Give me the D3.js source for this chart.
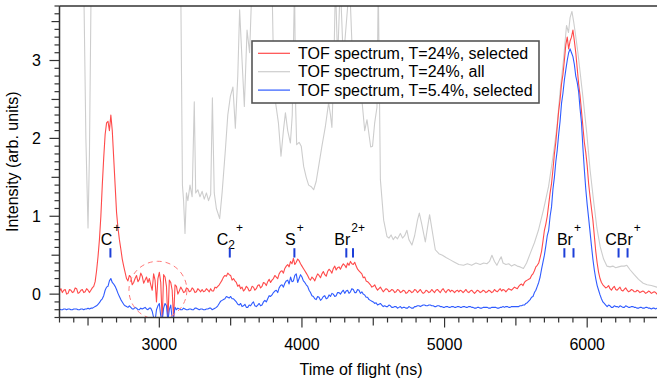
<!DOCTYPE html>
<html><head><meta charset="utf-8">
<script src="https://cdn.jsdelivr.net/npm/d3@7/dist/d3.min.js"></script>
<style>
body{margin:0;background:#fff}
svg{display:block;font-family:"Liberation Sans",Arial,sans-serif}
</style>
</head><body>
<svg id="chart" width="657" height="386"></svg>
<script>
// Sampling of the selected spectra (ns)
const sampleStart = 2300, sampleStep = 10;

// TOF spectrum, T=24%, selected (one row = 200 ns)
const redSelected = [
  0.04, 0.07, 0.02, 0.05, 0.06, 0.00, 0.01, 0.06, 0.05, 0.02, 0.03, 0.08, 0.07, 0.01, 0.02, 0.05, 0.06, 0.02, 0.03, 0.07,
  0.05, 0.02, 0.05, 0.08, 0.10, 0.16, 0.30, 0.48, 0.70, 1.00, 1.40, 1.75, 2.05, 2.20, 2.22, 2.10, 2.30, 2.10, 1.75, 1.40,
  1.05, 0.85, 0.70, 0.58, 0.45, 0.36, 0.28, 0.20, 0.17, 0.24, 0.22, 0.12, 0.15, 0.20, 0.24, 0.16, 0.19, 0.27, 0.23, 0.14,
  0.18, 0.22, 0.15, 0.20, 0.12, 0.05, 0.26, 0.18, -0.10, 0.20, 0.28, 0.15, -0.35, 0.25, 0.22, 0.10, -0.35, 0.18, 0.15, 0.05,
  -0.32, 0.12, 0.10, 0.00, 0.04, 0.09, 0.06, 0.02, 0.03, 0.08, 0.07, 0.03, 0.04, 0.08, 0.06, 0.02, 0.03, 0.07, 0.05, 0.03,
  0.06, 0.03, 0.04, 0.07, 0.05, 0.03, 0.07, 0.04, 0.04, 0.09, 0.08, 0.10, 0.12, 0.15, 0.18, 0.22, 0.24, 0.23, 0.27, 0.25,
  0.24, 0.18, 0.20, 0.17, 0.15, 0.10, 0.12, 0.07, 0.09, 0.04, 0.06, 0.10, 0.08, 0.04, 0.05, 0.10, 0.09, 0.05, 0.07, 0.11,
  0.12, 0.08, 0.10, 0.15, 0.14, 0.11, 0.16, 0.19, 0.15, 0.18, 0.20, 0.24, 0.22, 0.20, 0.26, 0.29, 0.30, 0.27, 0.33, 0.36,
  0.38, 0.35, 0.42, 0.39, 0.46, 0.38, 0.41, 0.45, 0.43, 0.39, 0.36, 0.33, 0.30, 0.27, 0.24, 0.20, 0.18, 0.22, 0.20, 0.17,
  0.22, 0.26, 0.24, 0.21, 0.26, 0.29, 0.25, 0.23, 0.29, 0.32, 0.30, 0.27, 0.33, 0.36, 0.31, 0.34, 0.35, 0.32, 0.36, 0.39,
  0.37, 0.34, 0.40, 0.37, 0.42, 0.39, 0.38, 0.41, 0.36, 0.32, 0.30, 0.28, 0.26, 0.21, 0.22, 0.17, 0.16, 0.14, 0.12, 0.09,
  0.10, 0.12, 0.08, 0.05, 0.07, 0.09, 0.06, 0.03, 0.05, 0.07, 0.06, 0.03, 0.04, 0.06, 0.05, 0.02, 0.03, 0.06, 0.05, 0.02,
  0.03, 0.05, 0.04, 0.01, 0.02, 0.05, 0.04, 0.02, 0.03, 0.06, 0.05, 0.02, 0.04, 0.06, 0.03, 0.01, 0.02, 0.05, 0.04, 0.02,
  0.03, 0.06, 0.04, 0.02, 0.05, 0.06, 0.04, 0.02, 0.05, 0.07, 0.04, 0.02, 0.05, 0.06, 0.03, 0.05, 0.04, 0.02, 0.04, 0.05,
  0.03, 0.05, 0.04, 0.02, 0.04, 0.06, 0.03, 0.02, 0.04, 0.05, 0.03, 0.01, 0.03, 0.05, 0.04, 0.02, 0.03, 0.05, 0.04, 0.02,
  0.03, 0.05, 0.04, 0.02, 0.03, 0.06, 0.04, 0.03, 0.05, 0.07, 0.04, 0.06, 0.05, 0.03, 0.05, 0.07, 0.06, 0.05, 0.07, 0.09,
  0.08, 0.07, 0.10, 0.12, 0.13, 0.11, 0.15, 0.17, 0.18, 0.19, 0.20, 0.24, 0.26, 0.30, 0.35, 0.37, 0.40, 0.47, 0.55, 0.68,
  0.82, 0.90, 1.00, 1.15, 1.30, 1.42, 1.60, 1.80, 1.95, 2.15, 2.35, 2.50, 2.70, 2.82, 3.00, 3.20, 3.30, 3.15, 3.25, 3.30,
  3.39, 3.25, 3.10, 2.90, 2.70, 2.55, 2.35, 2.15, 1.95, 1.82, 1.65, 1.42, 1.25, 1.10, 0.95, 0.75, 0.55, 0.40, 0.28, 0.20,
  0.15, 0.12, 0.10, 0.08, 0.09, 0.11, 0.07, 0.05, 0.08, 0.10, 0.06, 0.05, 0.07, 0.09, 0.05, 0.04, 0.06, 0.08, 0.05, 0.03,
  0.04, 0.06, 0.05, 0.03, 0.03, 0.05, 0.04, 0.02, 0.03, 0.04, 0.03, 0.01, 0.02, 0.04, 0.03, 0.01, 0.02, 0.03, 0.02, 0.00,
  0.01
];

// TOF spectrum, T=5.4%, selected (one row = 200 ns)
const blueSelected = [
  -0.19, -0.20, -0.20, -0.19, -0.19, -0.20, -0.19, -0.19, -0.20, -0.20, -0.19, -0.19, -0.19, -0.20, -0.20, -0.19, -0.19, -0.20, -0.19, -0.19,
  -0.18, -0.19, -0.18, -0.18, -0.17, -0.16, -0.15, -0.13, -0.11, -0.08, -0.06, -0.02, 0.05, 0.09, 0.10, 0.17, 0.20, 0.15, 0.13, 0.10,
  0.06, 0.01, -0.03, -0.07, -0.10, -0.13, -0.15, -0.16, -0.17, -0.15, -0.17, -0.19, -0.19, -0.17, -0.18, -0.20, -0.20, -0.18, -0.19, -0.18,
  -0.17, -0.19, -0.20, -0.18, -0.18, -0.22, -0.30, -0.35, -0.20, -0.15, -0.12, -0.28, -0.35, -0.18, -0.12, -0.15, -0.35, -0.20, -0.14, -0.32,
  -0.30, -0.17, -0.20, -0.18, -0.19, -0.20, -0.20, -0.18, -0.19, -0.20, -0.20, -0.19, -0.19, -0.20, -0.20, -0.18, -0.18, -0.19, -0.20, -0.19,
  -0.19, -0.20, -0.20, -0.19, -0.19, -0.18, -0.18, -0.20, -0.19, -0.18, -0.17, -0.15, -0.12, -0.09, -0.08, -0.07, -0.06, -0.03, -0.04, -0.05,
  -0.03, -0.06, -0.06, -0.08, -0.10, -0.13, -0.14, -0.12, -0.16, -0.15, -0.13, -0.17, -0.17, -0.14, -0.15, -0.12, -0.10, -0.15, -0.16, -0.14,
  -0.12, -0.15, -0.14, -0.10, -0.08, -0.10, -0.06, -0.02, -0.03, -0.01, 0.02, 0.04, 0.05, 0.02, 0.08, 0.11, 0.12, 0.09, 0.14, 0.17,
  0.18, 0.13, 0.22, 0.16, 0.17, 0.24, 0.26, 0.15, 0.20, 0.25, 0.22, 0.17, 0.15, 0.12, 0.10, 0.05, 0.02, -0.02, -0.03, -0.06,
  -0.07, -0.03, -0.04, -0.08, -0.06, -0.03, -0.02, -0.06, -0.05, -0.01, -0.03, 0.01, 0.00, -0.03, -0.02, 0.02, 0.02, 0.00, 0.03, 0.05,
  0.01, 0.04, 0.05, 0.01, 0.03, 0.07, 0.06, 0.02, 0.02, 0.06, 0.05, 0.01, 0.03, 0.00, -0.01, -0.04, -0.04, -0.07, -0.08, -0.09,
  -0.10, -0.12, -0.11, -0.14, -0.13, -0.12, -0.14, -0.16, -0.15, -0.16, -0.16, -0.14, -0.15, -0.17, -0.17, -0.16, -0.16, -0.18, -0.17, -0.16,
  -0.18, -0.17, -0.17, -0.18, -0.18, -0.16, -0.17, -0.18, -0.18, -0.16, -0.16, -0.15, -0.15, -0.16, -0.15, -0.14, -0.14, -0.15, -0.15, -0.14,
  -0.14, -0.15, -0.15, -0.16, -0.16, -0.15, -0.15, -0.16, -0.16, -0.17, -0.17, -0.16, -0.16, -0.17, -0.17, -0.16, -0.16, -0.17, -0.17, -0.16,
  -0.16, -0.17, -0.17, -0.16, -0.16, -0.17, -0.17, -0.16, -0.16, -0.17, -0.17, -0.18, -0.18, -0.17, -0.17, -0.18, -0.18, -0.17, -0.17, -0.17,
  -0.17, -0.18, -0.18, -0.17, -0.17, -0.17, -0.17, -0.18, -0.18, -0.17, -0.17, -0.16, -0.17, -0.16, -0.16, -0.17, -0.17, -0.16, -0.16, -0.16,
  -0.16, -0.16, -0.16, -0.15, -0.15, -0.14, -0.14, -0.12, -0.11, -0.09, -0.07, -0.04, -0.03, 0.02, 0.05, 0.10, 0.15, 0.22, 0.32, 0.41,
  0.50, 0.62, 0.75, 0.82, 1.00, 1.12, 1.35, 1.50, 1.70, 1.85, 2.05, 2.22, 2.45, 2.58, 2.75, 2.88, 3.00, 3.10, 3.15, 3.10,
  3.05, 2.95, 2.80, 2.72, 2.60, 2.38, 2.20, 1.88, 1.60, 1.35, 1.15, 0.98, 0.80, 0.62, 0.45, 0.31, 0.20, 0.11, 0.05, -0.01,
  -0.06, -0.10, -0.12, -0.14, -0.16, -0.14, -0.15, -0.17, -0.17, -0.15, -0.16, -0.16, -0.17, -0.15, -0.16, -0.17, -0.17, -0.15, -0.16, -0.17,
  -0.17, -0.16, -0.16, -0.17, -0.17, -0.18, -0.18, -0.17, -0.17, -0.18, -0.18, -0.17, -0.17, -0.18, -0.18, -0.19, -0.18, -0.18, -0.19, -0.18,
  -0.18
];

// TOF spectrum, T=24%, all (irregular sampling; values above the axis top are clipped)
const grayTime = [
  2300, 2470, 2485, 2500, 2510, 2522, 3150, 3162, 3170, 3180,
  3190, 3200, 3215, 3230, 3245, 3255, 3270, 3285, 3300, 3315,
  3330, 3345, 3360, 3372, 3385, 3400, 3423, 3440, 3463, 3480,
  3498, 3516, 3533, 3550, 3563, 3580, 3596, 3615, 3633, 3650,
  3790, 3800, 3815, 3835, 3853, 3870, 3884, 3900, 3919, 3932,
  3948, 3956, 3963, 3980, 3995, 4012, 4030, 4047, 4065, 4082,
  4100, 4117, 4140, 4164, 4187, 4200, 4210, 4222, 4235, 4250,
  4269, 4290, 4334, 4355, 4380, 4422, 4440, 4456, 4482, 4495,
  4510, 4526, 4535, 4550, 4573, 4596, 4610, 4625, 4640, 4655,
  4670, 4690, 4705, 4720, 4736, 4750, 4771, 4790, 4810, 4823,
  4840, 4865, 4880, 4895, 4910, 4935, 4960, 4985, 5010, 5040,
  5070, 5100, 5133, 5160, 5190, 5220, 5250, 5275, 5297, 5315,
  5332, 5350, 5367, 5385, 5397, 5410, 5430, 5450, 5470, 5490,
  5510, 5530, 5553, 5575, 5600, 5630, 5658, 5693, 5729, 5764,
  5788, 5810, 5834, 5855, 5869, 5880, 5893, 5905, 5916, 5935,
  5951, 5975, 5997, 6020, 6044, 6068, 6091, 6115, 6138, 6160,
  6180, 6200, 6220, 6240, 6260, 6278, 6302, 6330, 6360, 6393,
  6420, 6450, 6488, 6500
];
const grayValue = [
  4.0, 4.0, 2.0, 0.85, 1.8, 4.0, 4.0, 1.4, 1.2, 0.78,
  1.3, 1.2, 1.4, 1.25, 2.47, 1.3, 1.34, 1.25, 1.32, 1.22,
  1.3, 1.2, 1.28, 2.52, 1.3, 1.1, 0.97, 1.3, 1.85, 2.3,
  2.54, 2.66, 2.13, 2.8, 3.65, 3.0, 2.41, 3.39, 3.1, 4.0,
  4.0, 3.0, 2.46, 2.2, 1.77, 2.1, 2.33, 2.1, 1.94, 2.3,
  4.0, 2.4, 1.92, 1.95, 1.9, 1.64, 1.5, 1.4, 1.38, 1.34,
  1.45, 1.64, 1.9, 2.15, 2.46, 2.3, 2.14, 2.8, 4.0, 3.0,
  4.0, 3.0, 4.0, 3.0, 2.5, 2.46, 2.1, 2.24, 1.89, 1.9,
  2.2, 2.4, 4.0, 1.47, 0.95, 0.74, 0.72, 0.76, 0.7, 0.74,
  0.71, 0.78, 0.72, 0.75, 0.82, 0.7, 0.63, 0.75, 0.95, 1.04,
  0.9, 0.67, 0.85, 1.02, 0.85, 0.57, 0.52, 0.5, 0.47, 0.44,
  0.41, 0.38, 0.37, 0.39, 0.37, 0.4, 0.38, 0.4, 0.39, 0.42,
  0.5, 0.42, 0.37, 0.44, 0.48, 0.4, 0.38, 0.39, 0.36, 0.38,
  0.36, 0.35, 0.33, 0.4, 0.52, 0.66, 0.82, 1.08, 1.38, 1.81,
  2.15, 2.6, 3.01, 3.45, 3.36, 3.55, 3.63, 3.5, 3.36, 3.1,
  2.84, 2.45, 2.07, 1.6, 1.21, 0.85, 0.61, 0.45, 0.36, 0.35,
  0.36, 0.34, 0.35, 0.36, 0.36, 0.37, 0.31, 0.25, 0.19, 0.14,
  0.12, 0.11, 0.09, 0.09
];

// Ion assignments: label parts and flight-time markers (ns)
const ionBase = ["C", "C", "S", "Br", "Br", "CBr"];
const ionSub  = ["", "2", "", "", "", ""];
const ionSup  = ["+", "+", "+", "2+", "+", "+"];
const ionMarks = [[2657], [3494], [3947], [4311, 4358], [5840, 5904], [6220, 6283]];

const seriesNames = [
  "TOF spectrum, T=24%, selected",
  "TOF spectrum, T=24%, all",
  "TOF spectrum, T=5.4%, selected"
];
const seriesColors = ["#ff4a4a", "#cdcdcd", "#2f5bff"];

const xMajor = [3000, 4000, 5000, 6000];
const yMajor = [0, 1, 2, 3];

// ---- layout ----
const svg = d3.select("#chart");
const plotLeft = 59.5, plotRight = 658.5, plotTop = 6, plotBottom = 317.5;
const x = d3.scaleLinear().domain([2300, 6500]).range([plotLeft, plotRight]);
const y = d3.scaleLinear().domain([-0.3, 3.7]).range([plotBottom, plotTop]);

svg.append("clipPath").attr("id", "plotClip")
  .append("rect").attr("x", plotLeft).attr("y", plotTop)
  .attr("width", plotRight - plotLeft).attr("height", plotBottom - plotTop);

const plot = svg.append("g").attr("clip-path", "url(#plotClip)");

const timeGrid = d3.range(redSelected.length).map(i => sampleStart + i * sampleStep);
const line = d3.line().x(d => x(d[0])).y(d => y(d[1]));

const graySeries = grayTime.map((t, i) => [t, grayValue[i]]);
const redSeries = timeGrid.map((t, i) => [t, redSelected[i]]);
const blueSeries = timeGrid.map((t, i) => [t, blueSelected[i]]);

// draw order: all events behind, then the two selected spectra
[[graySeries, 1], [redSeries, 0], [blueSeries, 2]].forEach(([s, ci]) => {
  plot.append("path").datum(s)
    .attr("d", line)
    .attr("fill", "none")
    .attr("stroke", seriesColors[ci])
    .attr("stroke-width", 1.1)
    .attr("stroke-linejoin", "round");
});

// dashed circle around the distorted region
const circleCenter = [2990, 0.05];
plot.append("circle")
  .attr("cx", x(circleCenter[0])).attr("cy", y(circleCenter[1]))
  .attr("r", x(2990 + 203) - x(2990))
  .attr("fill", "none").attr("stroke", "#ff7a7a")
  .attr("stroke-width", 1).attr("stroke-dasharray", "5,4");

// ion labels and markers
const labelLevel = 0.63, markTop = 0.59, markBottom = 0.47;
ionBase.forEach((base, i) => {
  const marks = ionMarks[i];
  const cx = x(d3.mean(marks));
  const t = svg.append("text")
    .attr("x", cx).attr("y", y(labelLevel))
    .attr("text-anchor", "middle")
    .attr("font-size", 16).attr("fill", "#000");
  t.append("tspan").text(base);
  let shift = 0;
  if (ionSub[i]) {
    t.append("tspan").attr("font-size", 12).attr("dy", 4).text(ionSub[i]);
    shift = 4;
  }
  t.append("tspan").attr("font-size", 12).attr("dy", -13 - shift).attr("dx", 1).text(ionSup[i]);
  marks.forEach(m => {
    svg.append("line")
      .attr("x1", x(m)).attr("x2", x(m))
      .attr("y1", y(markTop)).attr("y2", y(markBottom))
      .attr("stroke", "#1d3fd8").attr("stroke-width", 2);
  });
});

// ---- axes ----
const axisColor = "#333";
const frame = svg.append("g").attr("stroke", axisColor).attr("stroke-width", 1.5);
frame.append("line").attr("x1", plotLeft).attr("x2", plotRight).attr("y1", plotTop).attr("y2", plotTop);
frame.append("line").attr("x1", plotLeft).attr("x2", plotLeft).attr("y1", plotTop).attr("y2", plotBottom);
frame.append("line").attr("x1", plotLeft).attr("x2", plotRight).attr("y1", plotBottom).attr("y2", plotBottom);

// x ticks: minor every 100, medium every 500, major every 1000
const xg = svg.append("g");
d3.range(2300, 6501, 100).forEach(v => {
  const len = v % 1000 === 0 ? 10 : (v % 500 === 0 ? 8 : 5);
  xg.append("line").attr("x1", x(v)).attr("x2", x(v))
    .attr("y1", plotBottom).attr("y2", plotBottom + len)
    .attr("stroke", axisColor).attr("stroke-width", 1.2);
});
xMajor.forEach(v => {
  xg.append("text").attr("x", x(v)).attr("y", 350)
    .attr("text-anchor", "middle").attr("font-size", 16).attr("fill", "#000")
    .text(v);
});

// y ticks: minor every 0.1, medium every 0.5, major every 1
const yg = svg.append("g");
d3.range(-3, 38).forEach(k => {
  const v = k / 10;
  const len = k % 10 === 0 ? 10 : (k % 5 === 0 ? 8 : 5);
  yg.append("line").attr("x1", plotLeft - len).attr("x2", plotLeft)
    .attr("y1", y(v)).attr("y2", y(v))
    .attr("stroke", axisColor).attr("stroke-width", 1.2);
});
yMajor.forEach(v => {
  yg.append("text").attr("x", 41).attr("y", y(v)).attr("dy", "0.36em")
    .attr("text-anchor", "end").attr("font-size", 16).attr("fill", "#000")
    .text(v);
});

// axis titles
svg.append("text").attr("x", (plotLeft + plotRight) / 2 + 2).attr("y", 375)
  .attr("text-anchor", "middle").attr("font-size", 16).attr("fill", "#000")
  .text("Time of flight (ns)");
svg.append("text")
  .attr("transform", `translate(18,${(plotTop + plotBottom) / 2}) rotate(-90)`)
  .attr("text-anchor", "middle").attr("font-size", 16).attr("fill", "#000")
  .text("Intensity (arb. units)");

// ---- legend ----
const lg = svg.append("g").attr("transform", "translate(252,41)");
lg.append("rect").attr("width", 287).attr("height", 62)
  .attr("fill", "#fff").attr("stroke", "#555").attr("stroke-width", 1.6);
seriesNames.forEach((name, i) => {
  const cy = 12.3 + i * 18.4;
  lg.append("line").attr("x1", 6).attr("x2", 38).attr("y1", cy).attr("y2", cy)
    .attr("stroke", seriesColors[i]).attr("stroke-width", 1.2);
  lg.append("text").attr("x", 46).attr("y", cy + 5.5)
    .attr("font-size", 16).attr("fill", "#000").text(name);
});
</script>
</body></html>
